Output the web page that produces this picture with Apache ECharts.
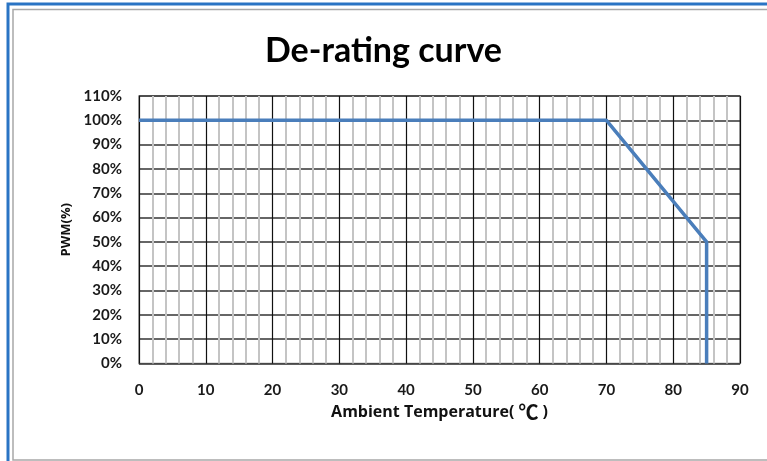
<!DOCTYPE html>
<html><head><meta charset="utf-8">
<script src="https://cdn.jsdelivr.net/npm/echarts@6/dist/echarts.min.js"></script>
<style>html,body{margin:0;padding:0;background:#fff}#c{width:767px;height:461px}</style>
</head><body><div id="c"></div>
<script>
const titleText = 'De-rating curve';
const xNameMain = 'Ambient Temperature(';
const xNameUnit = '℃';
const yName = 'PWM(%)';
const temps = [0, 70, 85, 85];
const pwm = [100, 100, 50, 0];
const xMin = 0, xMax = 90, xStep = 10;
const yMin = 0, yMax = 110, yStep = 10;

const chart = echarts.init(document.getElementById('c'), null, {renderer: 'canvas'});
const font = 'Lato, "Open Sans", sans-serif';
const font2 = '"Open Sans", sans-serif';
chart.setOption({
  animation: false,
  backgroundColor: '#fff',
  title: {
    text: titleText, left: 'center', top: 29,
    textStyle: {fontFamily: font, fontSize: 34, fontWeight: 'bold', color: '#000'}
  },
  graphic: [
    {type: 'rect', shape: {x: 8, y: 4, width: 770, height: 470}, style: {fill: 'none', stroke: '#2a74c4', lineWidth: 3}, z: 100},
    {type: 'rect', shape: {x: 13, y: 9.5, width: 770, height: 450.5}, style: {fill: 'none', stroke: '#a8a8a8', lineWidth: 1.5}, z: 100}
  ],
  grid: {left: 139, right: 27, top: 96, bottom: 97.5, show: true, borderColor: '#888', borderWidth: 1.5, backgroundColor: '#fff'},
  xAxis: {
    type: 'value', min: xMin, max: xMax, interval: xStep,
    name: xNameMain + '{c|' + xNameUnit + '}' + ')', nameLocation: 'middle', nameGap: 33,
    nameTextStyle: {fontFamily: font2, fontSize: 16, fontWeight: 'bold', color: '#111',
      rich: {c: {fontFamily: '"Noto Sans CJK SC"', fontSize: 20, fontWeight: 'bold', color: '#111', padding: [0, 4, 0, 4]}}},
    axisLine: {show: false}, axisTick: {show: false},
    axisLabel: {fontFamily: font, fontSize: 15, fontWeight: 'bold', color: '#1a1a1a', margin: 19},
    splitLine: {show: true, lineStyle: {color: '#111', width: 1.2}},
    minorTick: {show: false, splitNumber: 5},
    minorSplitLine: {show: true, lineStyle: {color: '#c4c4c4', width: 2}}
  },
  yAxis: {
    type: 'value', min: yMin, max: yMax, interval: yStep,
    name: yName, nameLocation: 'middle', nameGap: 46, nameRotate: 90,
    nameTextStyle: {fontFamily: font2, fontSize: 13, fontWeight: 'bold', color: '#111'},
    axisLine: {show: false}, axisTick: {show: false},
    axisLabel: {fontFamily: font, fontSize: 15, fontWeight: 'bold', color: '#1a1a1a', margin: 17, formatter: v => v + '%'},
    splitLine: {show: true, lineStyle: {color: '#333', width: 1.5}}
  },
  series: [{
    type: 'line', data: temps.map((t, i) => [t, pwm[i]]),
    showSymbol: false, symbol: 'none',
    lineStyle: {color: '#4a7ebb', width: 3.5}, z: 10
  }]
});
</script></body></html>
